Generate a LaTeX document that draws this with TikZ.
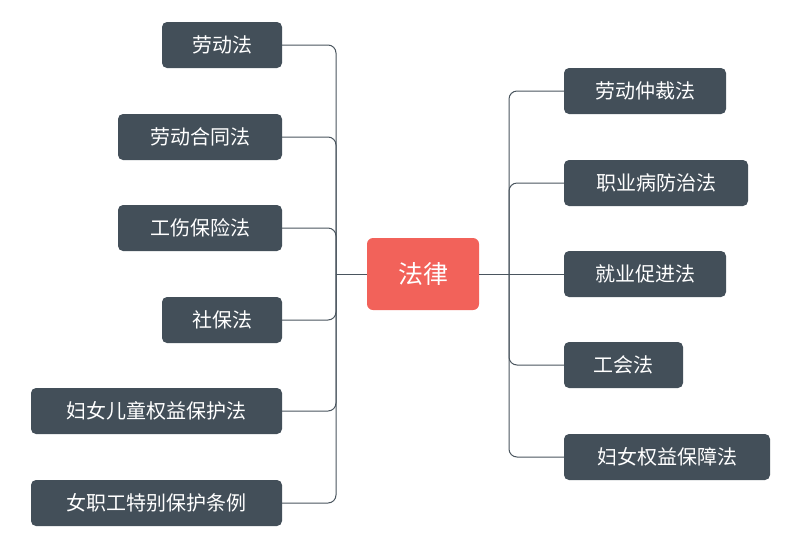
\documentclass[tikz,border=0pt]{standalone}
\usepackage{fontspec}
\setmainfont{Noto Sans CJK SC}
\begin{document}
\begin{tikzpicture}[x=1pt,y=-1pt,
  leaf/.style={draw=none,fill=leafc,rounded corners=5pt,text=white,
    font=\fontsize{20}{24}\selectfont,minimum height=46pt,inner xsep=0pt,anchor=center},
  root/.style={fill=rootc,rounded corners=6pt,text=white,
    font=\fontsize{25}{30}\selectfont,minimum width=112pt,minimum height=72pt,inner sep=0pt},
  link/.style={draw=linec,line width=1pt,rounded corners=8pt}]
\definecolor{leafc}{HTML}{434F59}
\definecolor{rootc}{HTML}{F2625A}
\definecolor{linec}{HTML}{4A555E}
\useasboundingbox (0,0) rectangle (800,547);
\node[root] (root) at (423,274) {法律};
\coordinate (lj) at (336,274);
\coordinate (rj) at (509,274);
% left
\node[leaf,minimum width=120pt] (l1) at (222,45) {劳动法};
\node[leaf,minimum width=164pt] (l2) at (200,137) {劳动合同法};
\node[leaf,minimum width=164pt] (l3) at (200,228) {工伤保险法};
\node[leaf,minimum width=120pt] (l4) at (222,320) {社保法};
\node[leaf,minimum width=251pt] (l5) at (156.5,411) {妇女儿童权益保护法};
\node[leaf,minimum width=251pt] (l6) at (156.5,503) {女职工特别保护条例};
% right
\node[leaf,minimum width=162pt] (r1) at (645,91) {劳动仲裁法};
\node[leaf,minimum width=184pt] (r2) at (656,183) {职业病防治法};
\node[leaf,minimum width=162pt] (r3) at (645,274) {就业促进法};
\node[leaf,minimum width=119pt] (r4) at (623.5,365) {工会法};
\node[leaf,minimum width=206pt] (r5) at (667,457) {妇女权益保障法};
% connectors
\foreach \n in {l1,l2,l3,l4,l5,l6} \draw[link] (\n.east) -| (lj);
\foreach \n in {r1,r2,r4,r5} \draw[link] (rj) |- (\n.west);
\draw[link] (root.west) -- (lj);
\draw[link] (root.east) -- (r3.west);
\end{tikzpicture}
\end{document}
